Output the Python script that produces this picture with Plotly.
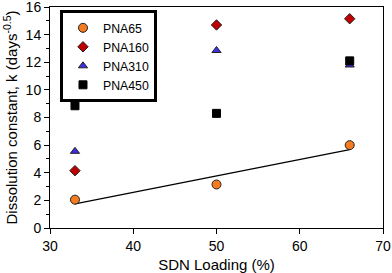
import numpy as np
import plotly.graph_objects as go

loading = [33, 50, 66]
pna65 = [2.05, 3.15, 6.0]
pna160 = [4.15, 14.7, 15.15]
pna310 = [5.55, 12.85, 11.8]
pna450 = [8.85, 8.3, 12.1]

slope, intercept = np.polyfit(loading, pna65, 1)
fit_x = [min(loading), max(loading)]
fit_y = [slope * v + intercept for v in fit_x]

fig = go.Figure()
fig.add_trace(go.Scatter(x=fit_x, y=fit_y, mode="lines", line=dict(color="black", width=1.3),
                         showlegend=False, hoverinfo="skip"))
fig.add_trace(go.Scatter(x=loading, y=pna65, mode="markers", name="PNA65",
                         marker=dict(symbol="circle", size=9, color="#F47B20",
                                     line=dict(color="#222", width=1))))
fig.add_trace(go.Scatter(x=loading, y=pna160, mode="markers", name="PNA160",
                         marker=dict(symbol="diamond", size=8, color="#C00000",
                                     line=dict(color="#222", width=1))))
fig.add_trace(go.Scatter(x=loading, y=pna310, mode="markers", name="PNA310",
                         marker=dict(symbol="triangle-up", size=8, color="#3F2FE0",
                                     line=dict(color="#222", width=1))))
fig.add_trace(go.Scatter(x=loading, y=pna450, mode="markers", name="PNA450",
                         marker=dict(symbol="square", size=8, color="black",
                                     line=dict(color="black", width=1))))

fig.update_layout(
    width=392, height=273,
    margin=dict(l=50, r=9, t=7, b=45, autoexpand=False),
    paper_bgcolor="white", plot_bgcolor="white",
    font=dict(family="Liberation Sans, Arial", color="black", size=14),
    legend=dict(x=0.03, y=0.985, xanchor="left", yanchor="top",
                bordercolor="black", borderwidth=3, bgcolor="white",
                font=dict(size=12.3), tracegroupgap=0, itemwidth=30),
    xaxis=dict(range=[30, 70], dtick=10, showline=True, linecolor="black", linewidth=1,
               mirror=True, ticks="outside", ticklen=5, tickcolor="black", showgrid=False,
               zeroline=False, automargin=False, ticklabeloverflow="allow",
               title=dict(text="SDN Loading (%)", font=dict(size=15), standoff=6)),
    yaxis=dict(range=[0, 16], dtick=2, showline=True, linecolor="black", linewidth=1,
               mirror=True, ticks="outside", ticklen=5, tickcolor="black", showgrid=False,
               zeroline=False, automargin=False, ticklabeloverflow="allow",
               minor=dict(dtick=1, ticks="outside", ticklen=3, tickcolor="black", showgrid=False),
               title=dict(text="Dissolution constant, k (days<sup>-0.5</sup>)", font=dict(size=15), standoff=4)),
)

fig.write_html("out.html", config={"displayModeBar": False},
               post_script="document.body.style.margin='0';document.body.style.overflow='hidden';")
